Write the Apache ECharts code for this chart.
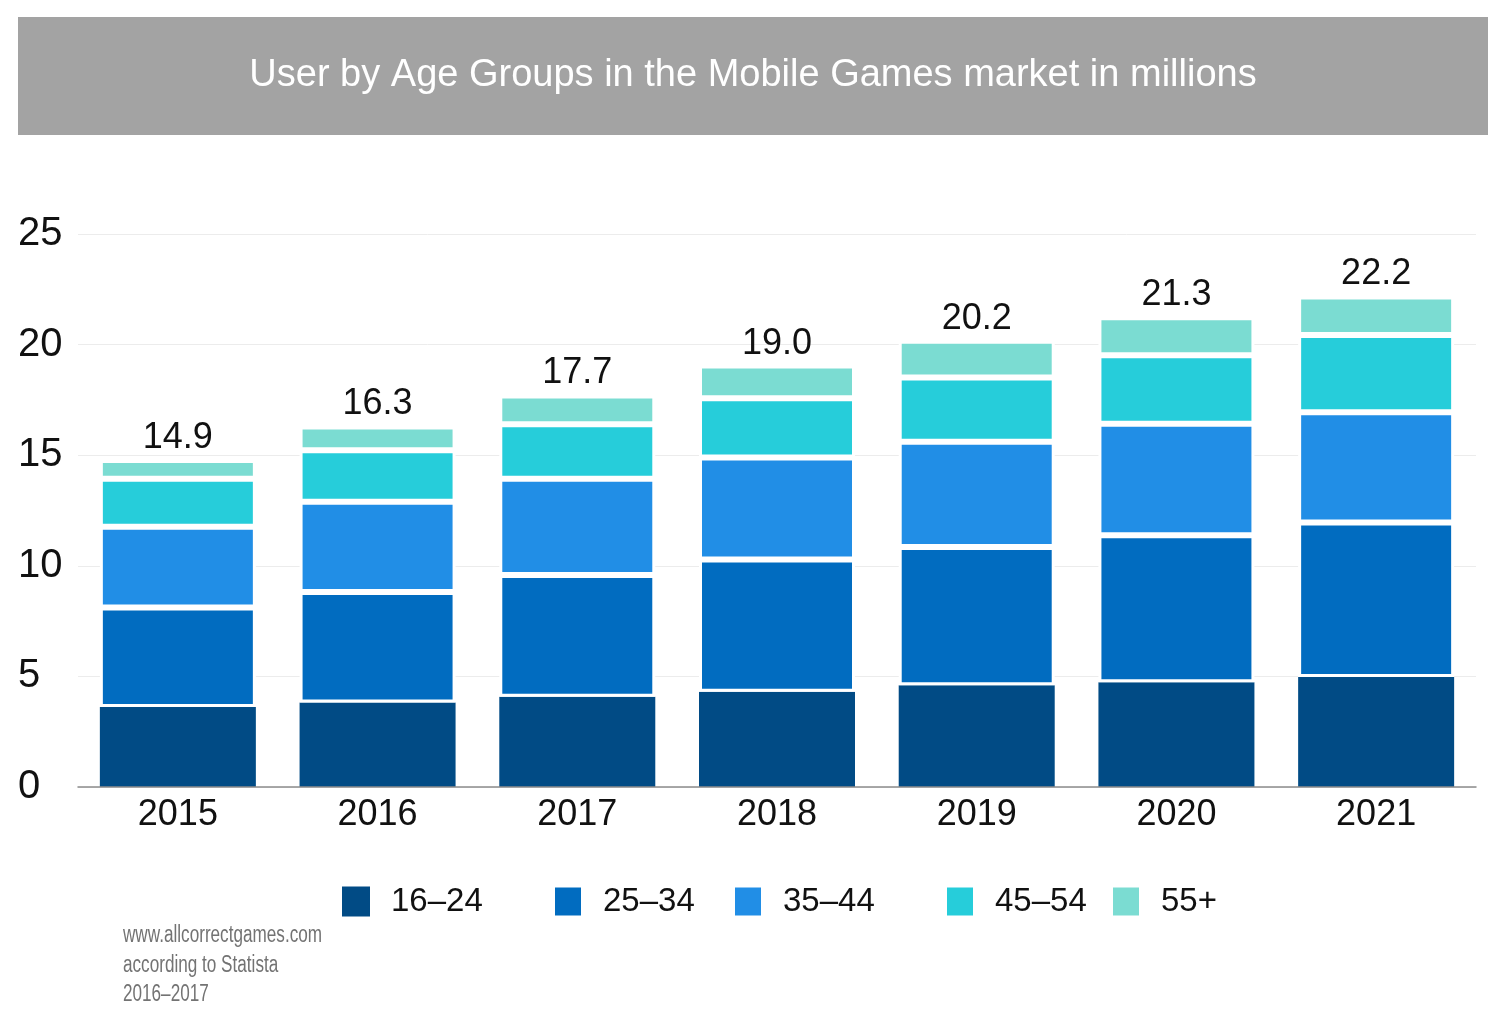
<!DOCTYPE html>
<html>
<head>
<meta charset="utf-8">
<script src="https://cdn.jsdelivr.net/npm/echarts@6/dist/echarts.min.js"></script>
<style>
html,body{margin:0;padding:0;background:#fff;}
#main{width:1506px;height:1024px;}
</style>
</head>
<body>
<div id="main"></div>
<script>
const categories = ['2015', '2016', '2017', '2018', '2019', '2020', '2021'];
const seriesNames = ['16–24', '25–34', '35–44', '45–54', '55+'];
const age16_24 = [3.62, 3.82, 4.08, 4.31, 4.60, 4.74, 4.97];
const age25_34 = [4.49, 5.00, 5.50, 5.98, 6.25, 6.64, 6.99];
const age35_44 = [3.65, 4.07, 4.36, 4.61, 4.76, 5.04, 4.98];
const age45_54 = [2.17, 2.33, 2.46, 2.68, 2.90, 3.10, 3.49];
const age55plus = [0.85, 1.08, 1.30, 1.47, 1.66, 1.72, 1.75];
const totals = ['14.9', '16.3', '17.7', '19.0', '20.2', '21.3', '22.2'];
const yTicks = [0, 5, 10, 15, 20, 25];
const titleText = 'User by Age Groups in the Mobile Games market in millions';
const sourceLines = ['www.allcorrectgames.com', 'according to Statista', '2016–2017'];

const colors = ['#014b85', '#016cc0', '#218ee6', '#26cdda', '#7bdcd2'];
const dataSets = [age16_24, age25_34, age35_44, age45_54, age55plus];
const FONT = '"Liberation Sans", Arial, sans-serif';

const chart = echarts.init(document.getElementById('main'), null, {renderer: 'canvas'});

const series = dataSets.map((d, i) => {
  const s = {
    name: seriesNames[i],
    type: 'bar',
    stack: 'total',
    data: d,
    barWidth: 156,
    itemStyle: {color: colors[i], borderColor: '#ffffff', borderWidth: i === 0 ? 0 : 3},
    emphasis: {disabled: true}
  };
  if (i === dataSets.length - 1) {
    s.label = {
      show: true,
      position: 'top',
      distance: 4,
      fontFamily: FONT,
      fontSize: 36,
      color: '#111',
      formatter: p => totals[p.dataIndex]
    };
  }
  return s;
});

const legendLefts = [337, 548, 728, 940, 1106];
const legends = seriesNames.map((n, i) => ({
  data: [{name: n, icon: 'rect'}],
  left: legendLefts[i],
  top: 880,
  itemWidth: 28,
  itemHeight: 30,
  selectedMode: false,
  textStyle: {fontFamily: FONT, fontSize: 33, color: '#111', padding: [0, 0, 0, 16]}
}));

chart.setOption({
  animation: false,
  backgroundColor: '#ffffff',
  color: colors,
  grid: {left: 78, right: 30, top: 234, bottom: 237, containLabel: false},
  xAxis: {
    type: 'category',
    data: categories,
    z: 3,
    axisLine: {lineStyle: {color: '#8c8c8c', width: 1.5}},
    axisTick: {show: false},
    axisLabel: {fontFamily: FONT, fontSize: 36, color: '#111', margin: 10}
  },
  yAxis: {
    type: 'value',
    min: yTicks[0],
    max: yTicks[yTicks.length - 1],
    interval: 5,
    axisLine: {show: false},
    axisTick: {show: false},
    splitLine: {lineStyle: {color: '#ececec', width: 1}},
    axisLabel: {fontFamily: FONT, fontSize: 40, color: '#111', align: 'left', margin: 60}
  },
  legend: legends,
  graphic: [
    {type: 'rect', left: 18, top: 17, shape: {width: 1470, height: 118}, style: {fill: '#a3a3a3'}, z: -1},
    {type: 'text', left: 'center', top: 57, style: {text: titleText, fill: '#ffffff', font: '38px ' + FONT}},
    {type: 'text', x: 123, y: 921, scaleX: 0.745, style: {text: sourceLines.join('\n'), fill: '#737373', font: '23px "Liberation Sans", sans-serif', lineHeight: 29.5}}
  ],
  series: series
});
</script>
</body>
</html>
